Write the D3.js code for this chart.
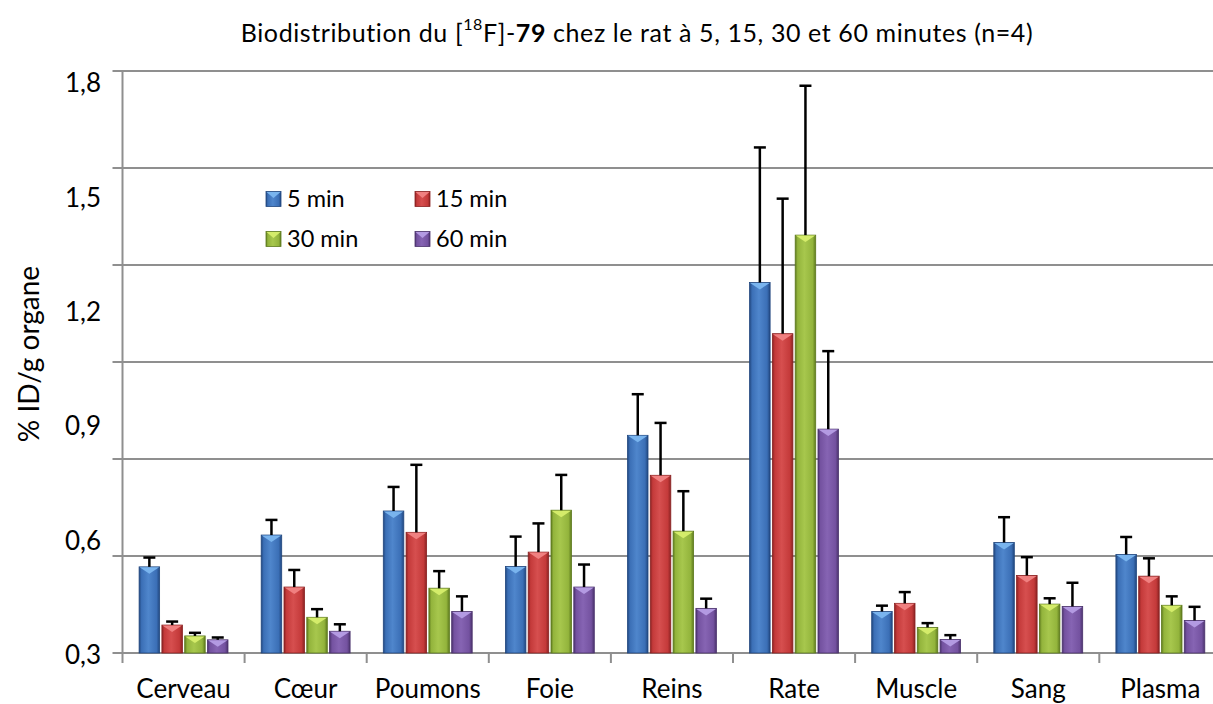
<!DOCTYPE html>
<html>
<head>
<meta charset="utf-8">
<script src="https://cdn.jsdelivr.net/npm/d3@7/dist/d3.min.js"></script>
<style>
  html, body { margin: 0; padding: 0; background: #fff; }
  svg { display: block; font-family: Lato, "Open Sans", sans-serif; font-variant-ligatures: none; }
</style>
</head>
<body>
<svg id="chart" width="1213" height="704"></svg>
<script>
// ---- data ----
const categories = ["Cerveau", "Cœur", "Poumons", "Foie", "Reins", "Rate", "Muscle", "Sang", "Plasma"];
const seriesNames = ["5 min", "15 min", "30 min", "60 min"];
const min5   = [0.522, 0.604, 0.666, 0.523, 0.861, 1.255, 0.407, 0.585, 0.554];
const min15  = [0.372, 0.470, 0.611, 0.560, 0.758, 1.123, 0.428, 0.500, 0.498];
const min30  = [0.344, 0.392, 0.467, 0.668, 0.614, 1.377, 0.366, 0.426, 0.423];
const min60  = [0.334, 0.356, 0.407, 0.470, 0.415, 0.877, 0.335, 0.420, 0.384];
const err5   = [0.024, 0.039, 0.062, 0.077, 0.106, 0.348, 0.015, 0.065, 0.045];
const err15  = [0.009, 0.044, 0.174, 0.074, 0.135, 0.348, 0.029, 0.047, 0.046];
const err30  = [0.008, 0.021, 0.044, 0.091, 0.103, 0.385, 0.011, 0.015, 0.023];
const err60  = [0.006, 0.018, 0.039, 0.058, 0.025, 0.201, 0.011, 0.061, 0.035];
const gridValues = [0.3, 0.55, 0.8, 1.05, 1.3, 1.55, 1.8];
const tickLabels = [0.3, 0.6, 0.9, 1.2, 1.5, 1.8];

const seriesValues = [min5, min15, min30, min60];
const seriesErrors = [err5, err15, err30, err60];
const colors = [
  { base: "#3b6fb6", dark: "#21477f", light: "#4f86cc", tip: "#79b4ee" },
  { base: "#c43a3a", dark: "#8a2222", light: "#d64f4f", tip: "#f08080" },
  { base: "#93b43c", dark: "#5e7a1e", light: "#a7c74d", tip: "#d4ec6a" },
  { base: "#7452a0", dark: "#4b336d", light: "#8664b3", tip: "#b39ae2" }
];

const svg = d3.select("#chart");
const left = 122.5, step = 122.1;
const x0 = d3.scaleBand().domain(categories).range([left, left + step * categories.length]).padding(0);
const groupPad = 16.6;
const x1 = d3.scaleBand().domain(seriesNames).range([groupPad, step - groupPad]).paddingInner(0.1);
const y = d3.scaleLinear().domain([0.3, 1.8]).range([653, 71]);
const yLab = d3.scaleLinear().domain([0.3, 1.8]).range([655, 83]);

// gradients
const defs = svg.append("defs");
colors.forEach((c, i) => {
  const g = defs.append("linearGradient").attr("id", "g" + i).attr("x1", "0").attr("x2", "1").attr("y1", "0").attr("y2", "0");
  g.append("stop").attr("offset", "0%").attr("stop-color", c.dark);
  g.append("stop").attr("offset", "12%").attr("stop-color", c.base);
  g.append("stop").attr("offset", "45%").attr("stop-color", c.light);
  g.append("stop").attr("offset", "85%").attr("stop-color", c.base);
  g.append("stop").attr("offset", "100%").attr("stop-color", c.dark);
});

// gridlines
const gridColor = "#8f8f8f";
svg.append("g").selectAll("line").data(gridValues).join("line")
  .attr("x1", left - 10).attr("x2", 1213)
  .attr("y1", d => y(d)).attr("y2", d => y(d))
  .attr("stroke", gridColor).attr("stroke-width", 2);

// y axis line
svg.append("line").attr("x1", left).attr("x2", left).attr("y1", y(1.8)).attr("y2", y(0.3) + 10)
  .attr("stroke", gridColor).attr("stroke-width", 2);

// x axis ticks at category boundaries
svg.append("g").selectAll("line").data(categories.slice(1)).join("line")
  .attr("x1", d => x0(d)).attr("x2", d => x0(d))
  .attr("y1", y(0.3)).attr("y2", y(0.3) + 10)
  .attr("stroke", gridColor).attr("stroke-width", 2);

// y tick labels
const fmt = d => d3.format(".1f")(d).replace(".", ",");
svg.append("g").selectAll("text").data(tickLabels).join("text")
  .attr("x", 101).attr("y", d => yLab(d)).attr("dy", "0.35em")
  .attr("text-anchor", "end").attr("font-size", 26).attr("fill", "#000")
  .text(fmt);

// category labels
svg.append("g").selectAll("text").data(categories).join("text")
  .attr("x", d => x0(d) + step / 2).attr("y", 689).attr("dy", "0.35em")
  .attr("text-anchor", "middle").attr("font-size", 26).attr("fill", "#000")
  .text(d => d);

// y axis title
svg.append("text").attr("transform", "translate(29,354) rotate(-90)")
  .attr("text-anchor", "middle").attr("dy", "0.35em").attr("font-size", 28).attr("fill", "#000")
  .text("% ID/g organe");

// title
const title = svg.append("text").attr("x", 637).attr("y", 33).attr("dy", "0.35em")
  .attr("text-anchor", "middle").attr("font-size", 25).attr("letter-spacing", 0.6).attr("fill", "#000");
title.append("tspan").text("Biodistribution du [");
title.append("tspan").attr("font-size", 16).attr("dy", "-0.75em").text("18");
title.append("tspan").attr("dy", "0.48em").text("F]-");
title.append("tspan").attr("font-weight", "bold").text("79");
title.append("tspan").text(" chez le rat à 5, 15, 30 et 60 minutes (n=4)");

// bars
const rows = [];
seriesNames.forEach((s, si) => {
  categories.forEach((c, ci) => {
    rows.push({ s, si, c, v: seriesValues[si][ci], e: seriesErrors[si][ci] });
  });
});
const bw = x1.bandwidth();
const bars = svg.append("g").selectAll("g").data(rows).join("g")
  .attr("transform", d => `translate(${x0(d.c) + x1(d.s)},0)`);
bars.append("rect")
  .attr("x", 0).attr("width", bw)
  .attr("y", d => y(d.v)).attr("height", d => y(0.3) - y(d.v))
  .attr("fill", d => `url(#g${d.si})`)
  .attr("stroke", d => colors[d.si].dark).attr("stroke-width", 0.8);
bars.append("path")
  .attr("d", d => `M0.5,${y(d.v) + 0.5} L${bw - 0.5},${y(d.v) + 0.5} L${bw / 2},${y(d.v) + 7} Z`)
  .attr("fill", d => colors[d.si].tip);

// error bars (upper)
const errG = svg.append("g").attr("stroke", "#000").attr("stroke-width", 2.5);
errG.selectAll("line.v").data(rows).join("line").attr("class", "v")
  .attr("x1", d => x0(d.c) + x1(d.s) + bw / 2).attr("x2", d => x0(d.c) + x1(d.s) + bw / 2)
  .attr("y1", d => y(d.v)).attr("y2", d => y(d.v + d.e));
errG.selectAll("line.c").data(rows).join("line").attr("class", "c")
  .attr("x1", d => x0(d.c) + x1(d.s) + bw / 2 - 6).attr("x2", d => x0(d.c) + x1(d.s) + bw / 2 + 6)
  .attr("y1", d => y(d.v + d.e)).attr("y2", d => y(d.v + d.e));

// legend
const legendPos = [[266, 199], [415, 199], [266, 239], [415, 239]];
const leg = svg.append("g").selectAll("g").data(seriesNames).join("g")
  .attr("transform", (d, i) => `translate(${legendPos[i][0]},${legendPos[i][1]})`);
leg.append("rect").attr("x", 0).attr("y", -7.5).attr("width", 15).attr("height", 15)
  .attr("fill", (d, i) => `url(#g${i})`).attr("stroke", (d, i) => colors[i].dark).attr("stroke-width", 0.8);
leg.append("path").attr("d", "M0.5,-7 L14.5,-7 L7.5,-1 Z").attr("fill", (d, i) => colors[i].tip);
leg.append("text").attr("x", 21).attr("dy", "0.35em").attr("font-size", 23.5).attr("fill", "#000").text(d => d);
</script>
</body>
</html>
